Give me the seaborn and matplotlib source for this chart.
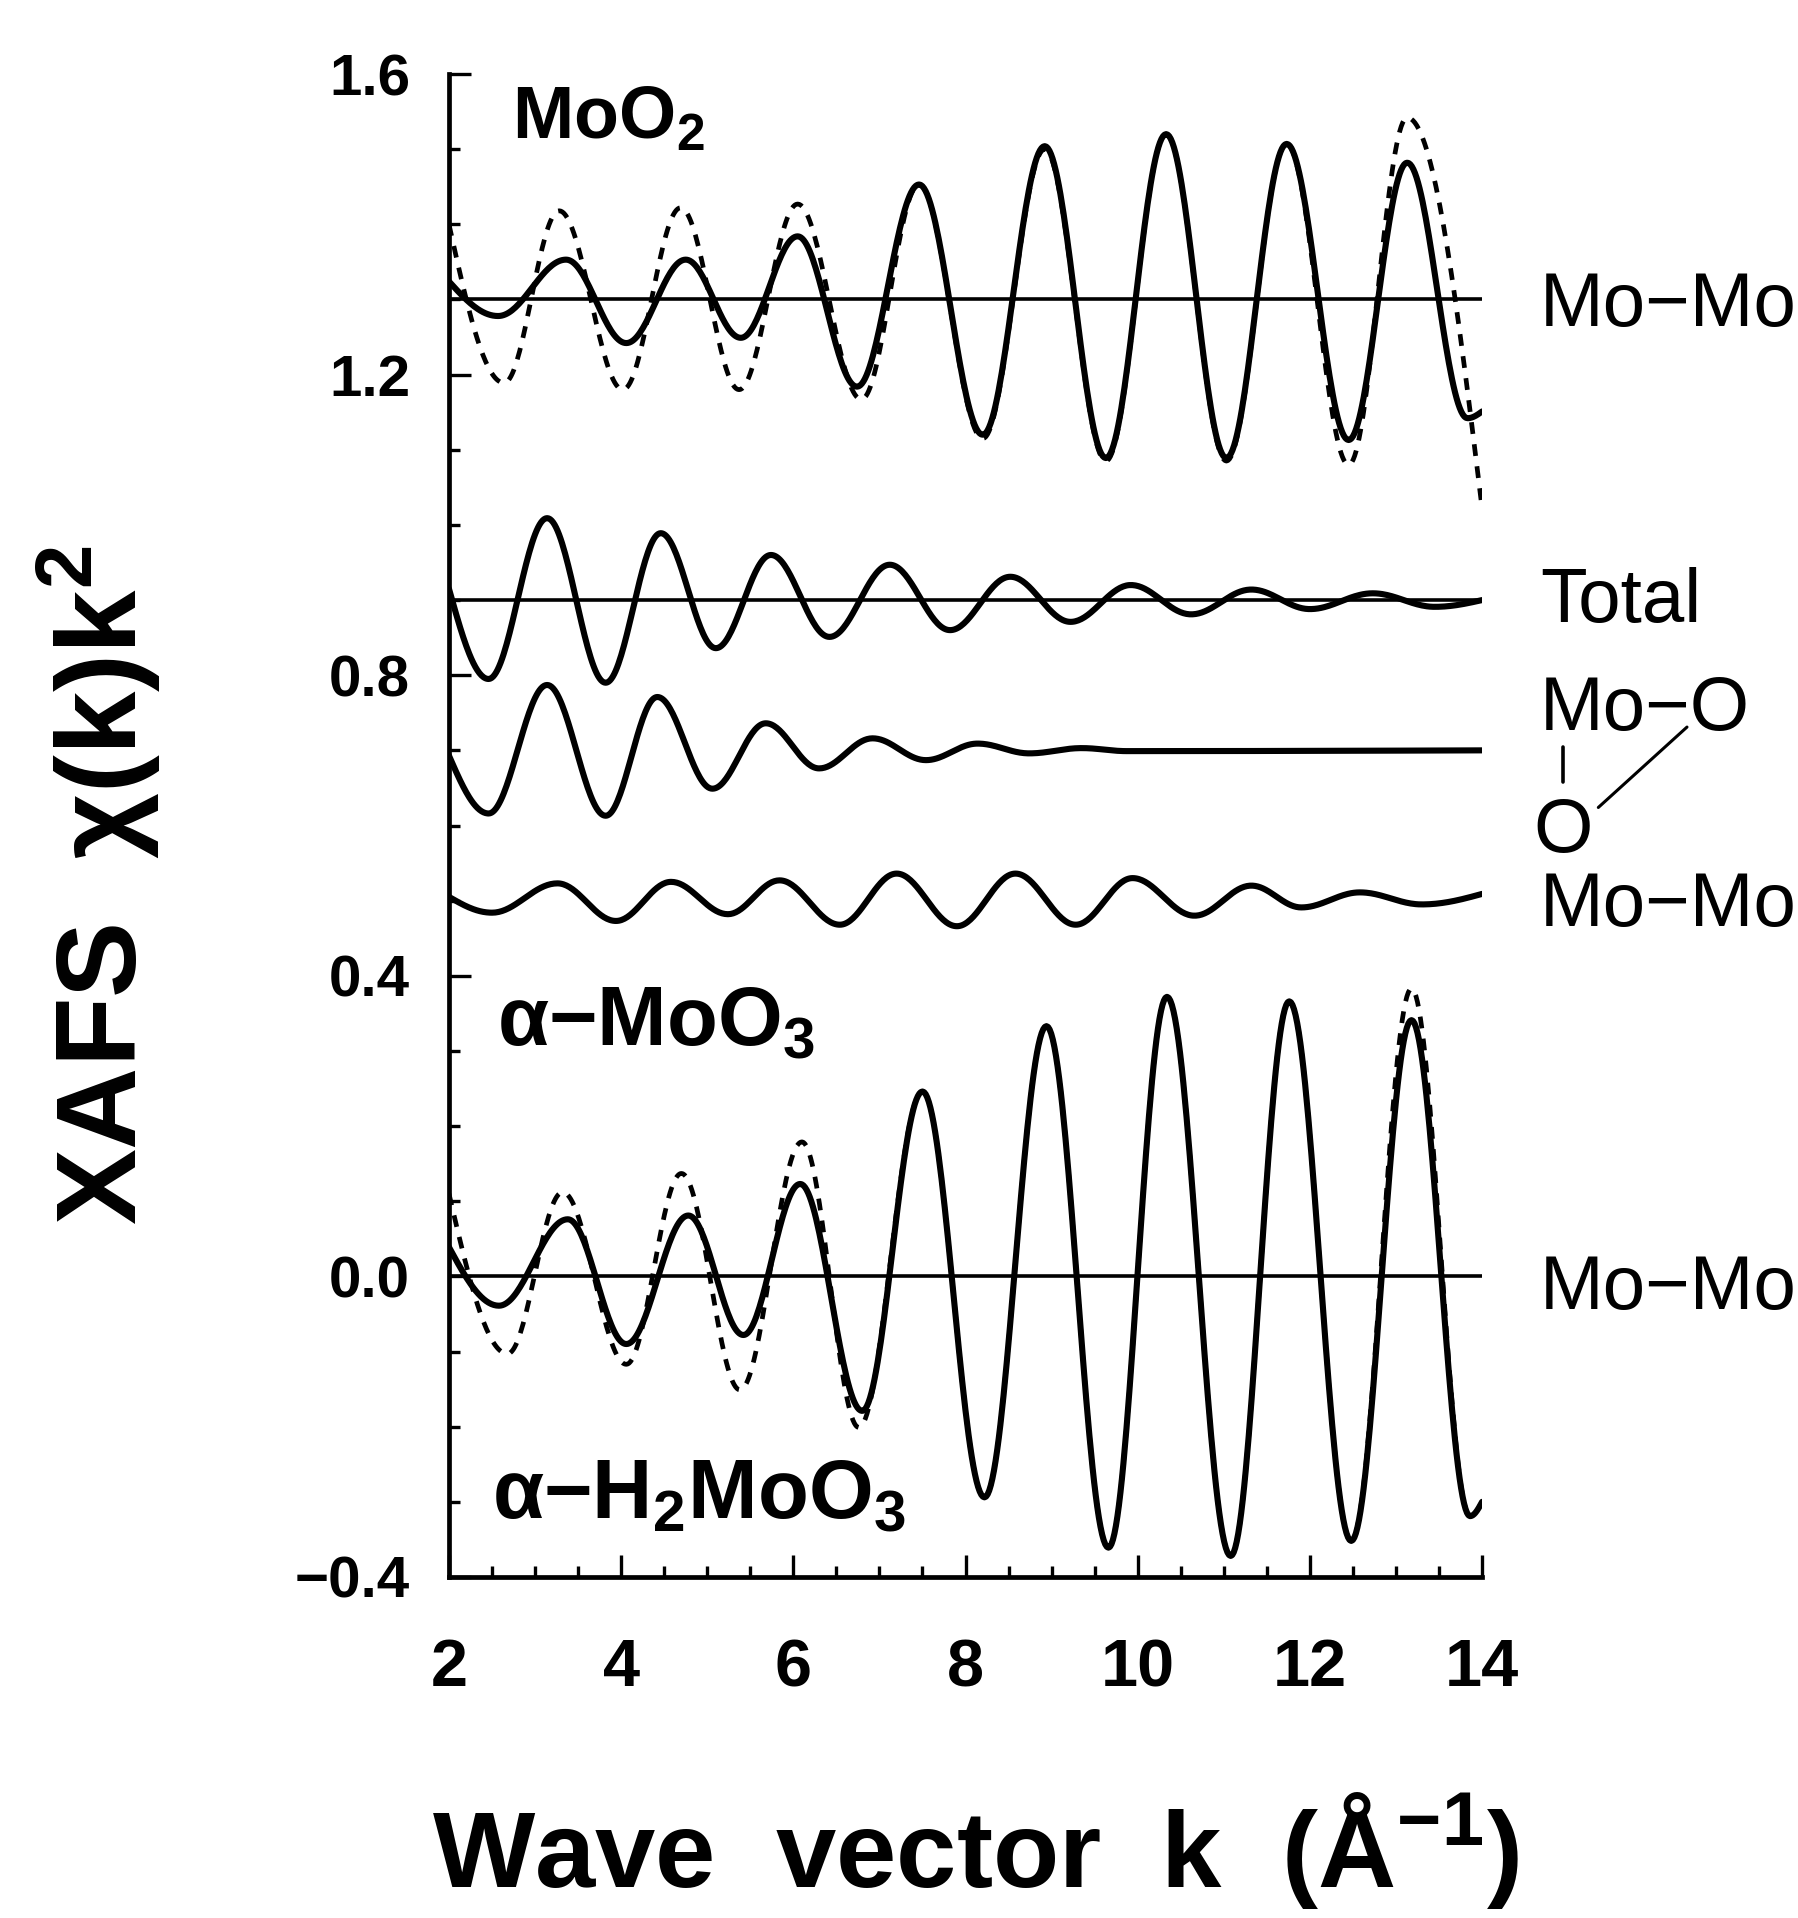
import numpy as np
import pandas as pd
import seaborn as sns
import matplotlib
matplotlib.use("Agg")
import matplotlib.pyplot as plt
from matplotlib.ticker import MultipleLocator

# --- data: turning points (k in 1/A, chi(k)k^2 incl. offset) ---
# MoO2, upper pair of traces (offset 1.3)
MOO2_SOLID_K = [2.0, 2.57, 3.36, 4.06, 4.75, 5.39, 6.05, 6.74, 7.46, 8.20, 8.92,
                9.63, 10.33, 11.03, 11.73, 12.45, 13.13, 13.83, 14.0]
MOO2_SOLID_Y = [1.324, 1.278, 1.353, 1.242, 1.353, 1.249, 1.384, 1.184, 1.453, 1.120,
                1.504, 1.089, 1.520, 1.089, 1.507, 1.113, 1.482, 1.142, 1.151]
MOO2_DASH_K = [2.0, 2.64, 3.28, 4.02, 4.69, 5.37, 6.05, 6.79, 7.46, 8.20, 8.92,
               9.63, 10.33, 11.03, 11.73, 12.45, 13.13, 14.0]
MOO2_DASH_Y = [1.400, 1.189, 1.418, 1.180, 1.422, 1.180, 1.427, 1.167, 1.453, 1.115,
               1.500, 1.085, 1.520, 1.085, 1.507, 1.080, 1.542, 1.022]

# alpha-MoO3 shell decomposition
TOTAL_K = [2.0, 2.46, 3.14, 3.82, 4.46, 5.10, 5.74, 6.42, 7.12, 7.82, 8.52, 9.22,
           9.92, 10.62, 11.32, 12.0, 12.73, 13.45, 14.0]
TOTAL_Y = [0.915, 0.795, 1.009, 0.790, 0.989, 0.836, 0.960, 0.851, 0.947, 0.860,
           0.931, 0.871, 0.920, 0.881, 0.914, 0.888, 0.909, 0.891, 0.900]
MOO_K = [2.0, 2.46, 3.14, 3.82, 4.42, 5.06, 5.68, 6.30, 6.92, 7.54, 8.14, 8.74,
         9.35, 9.87, 14.0]
MOO_Y = [0.693, 0.616, 0.787, 0.613, 0.771, 0.649, 0.736, 0.676, 0.716, 0.687,
         0.709, 0.696, 0.703, 0.699, 0.700]
MOMO_K = [2.0, 2.50, 3.26, 3.94, 4.58, 5.24, 5.84, 6.54, 7.20, 7.90, 8.58, 9.28,
          9.94, 10.66, 11.32, 11.90, 12.58, 13.30, 14.0]
MOMO_Y = [0.505, 0.484, 0.523, 0.473, 0.525, 0.482, 0.527, 0.468, 0.536, 0.466,
          0.536, 0.468, 0.530, 0.480, 0.520, 0.491, 0.511, 0.495, 0.509]

# alpha-H2MoO3, lower pair of traces (offset 0)
H2_SOLID_K = [2.0, 2.58, 3.38, 4.06, 4.78, 5.42, 6.08, 6.80, 7.50, 8.22, 8.94,
              9.66, 10.34, 11.08, 11.76, 12.48, 13.18, 13.86, 14.0]
H2_SOLID_Y = [0.039, -0.039, 0.076, -0.090, 0.081, -0.078, 0.123, -0.179, 0.246,
              -0.294, 0.333, -0.361, 0.372, -0.372, 0.366, -0.352, 0.341, -0.319, -0.300]
H2_DASH_K = [2.0, 2.68, 3.32, 4.06, 4.70, 5.38, 6.10, 6.76, 7.50, 8.22, 8.94,
             9.66, 10.34, 11.08, 11.76, 12.48, 13.18, 13.86, 14.0]
H2_DASH_Y = [0.110, -0.103, 0.112, -0.117, 0.137, -0.151, 0.179, -0.201, 0.246,
             -0.294, 0.333, -0.361, 0.372, -0.372, 0.366, -0.352, 0.383, -0.319, -0.300]

BASELINES = [1.3, 0.9, 0.0]

Y_TICKS = [-0.4, 0.0, 0.4, 0.8, 1.2, 1.6]
X_TICKS = [2, 4, 6, 8, 10, 12, 14]


def smooth_trace(k_pts, y_pts, n=40):
    # join the picked turning points with cosine arcs; both ends are cut
    # mid-slope, so they get a quarter arc instead of a half one
    ks, ys = [], []
    last = len(k_pts) - 2
    for i in range(len(k_pts) - 1):
        t = np.linspace(0, 1, n)
        if i == 0:
            s = np.sin(np.pi / 2 * t)
        elif i == last:
            s = 1 - np.cos(np.pi / 2 * t)
        else:
            s = (1 - np.cos(np.pi * t)) / 2
        if i > 0:
            t, s = t[1:], s[1:]
        ks.append(k_pts[i] + (k_pts[i + 1] - k_pts[i]) * t)
        ys.append(y_pts[i] + (y_pts[i + 1] - y_pts[i]) * s)
    return np.concatenate(ks), np.concatenate(ys)


traces = [
    ("moo2_dash", MOO2_DASH_K, MOO2_DASH_Y),
    ("moo2_solid", MOO2_SOLID_K, MOO2_SOLID_Y),
    ("total", TOTAL_K, TOTAL_Y),
    ("mo_o", MOO_K, MOO_Y),
    ("mo_mo", MOMO_K, MOMO_Y),
    ("h2_dash", H2_DASH_K, H2_DASH_Y),
    ("h2_solid", H2_SOLID_K, H2_SOLID_Y),
]
frames = []
for name, kp, yp in traces:
    kk, yy = smooth_trace(kp, yp)
    frames.append(pd.DataFrame({"k": kk, "chi": yy, "trace": name}))
df = pd.concat(frames, ignore_index=True)

sns.set_theme(style="ticks")
plt.rcParams["font.family"] = ["Liberation Sans", "DejaVu Sans"]
plt.rcParams["mathtext.fontset"] = "custom"
plt.rcParams["mathtext.rm"] = "Liberation Sans"
plt.rcParams["mathtext.bf"] = "Liberation Sans:bold"
plt.rcParams["axes.edgecolor"] = "black"
plt.rcParams["xtick.color"] = "black"
plt.rcParams["ytick.color"] = "black"
plt.rcParams["text.color"] = "black"
plt.rcParams["axes.labelcolor"] = "black"

fig = plt.figure(figsize=(17.98, 19.18), dpi=100)
ax = fig.add_axes([0.2497, 0.1778, 0.5746, 0.7836])

for y0 in BASELINES:
    ax.axhline(y0, color="black", lw=2.6, zorder=2)

for name, _, _ in traces:
    sub = df[df["trace"] == name]
    dashed = name.endswith("_dash")
    sns.lineplot(data=sub, x="k", y="chi", ax=ax, color="black",
                 estimator=None, sort=False,
                 lw=3.4 if dashed else 4.4,
                 linestyle=(0, (2.5, 2.2)) if dashed else "-",
                 zorder=2 if dashed else 3)

ax.set_xlim(2, 14)
ax.set_ylim(-0.4, 1.6)
ax.set_xticks(X_TICKS)
ax.set_yticks(Y_TICKS)
ax.xaxis.set_minor_locator(MultipleLocator(0.5))
ax.yaxis.set_minor_locator(MultipleLocator(0.1))
ax.tick_params(which="both", direction="in", top=False, right=False, width=2.4)
ax.tick_params(which="major", length=16)
ax.tick_params(which="minor", length=8)
ax.tick_params(axis="y", which="major", pad=28, labelsize=42)
ax.tick_params(axis="x", which="major", pad=44, labelsize=48)
for lab in ax.get_xticklabels() + ax.get_yticklabels():
    lab.set_fontweight("bold")

sns.despine(ax=ax)
for side in ["left", "bottom"]:
    ax.spines[side].set_linewidth(3.4)

ax.set_xlabel("Wave  vector  k  (Å$^{\\mathbf{-1}}$)", fontsize=78, fontweight="bold")
ax.set_ylabel("XAFS  χ(k)k$^{\\mathbf{2}}$", fontsize=82, fontweight="bold")
ax.xaxis.set_label_coords(0.51, -0.142)
ax.yaxis.set_label_coords(-0.277, 0.46)

# sample names inside the frame
ax.text(2.73, 1.514, "MoO$_{\\mathbf{2}}$", fontsize=53, fontweight="bold", va="baseline")
ax.text(2.56, 0.307, "α−MoO$_{\\mathbf{3}}$", fontsize=60, fontweight="bold", va="baseline")
ax.text(2.50, -0.322, "α−H$_{\\mathbf{2}}$MoO$_{\\mathbf{3}}$", fontsize=60,
        fontweight="bold", va="baseline")

# shell labels to the right of the frame
rk = 14.67
ax.text(rk, 1.265, "Mo−Mo", fontsize=55, va="baseline")
ax.text(rk, 0.871, "Total", fontsize=55, va="baseline")
ax.text(rk, 0.727, "Mo−O", fontsize=55, va="baseline")
ax.plot([14.94, 14.94], [0.658, 0.704], color="black", lw=2.6, clip_on=False)
ax.text(14.94, 0.565, "O", fontsize=55, ha="center", va="baseline")
ax.plot([15.35, 16.38], [0.624, 0.731], color="black", lw=2.2, clip_on=False)
ax.text(rk, 0.466, "Mo−Mo", fontsize=55, va="baseline")
ax.text(rk, -0.043, "Mo−Mo", fontsize=55, va="baseline")

fig.savefig("out.png", dpi=100)
